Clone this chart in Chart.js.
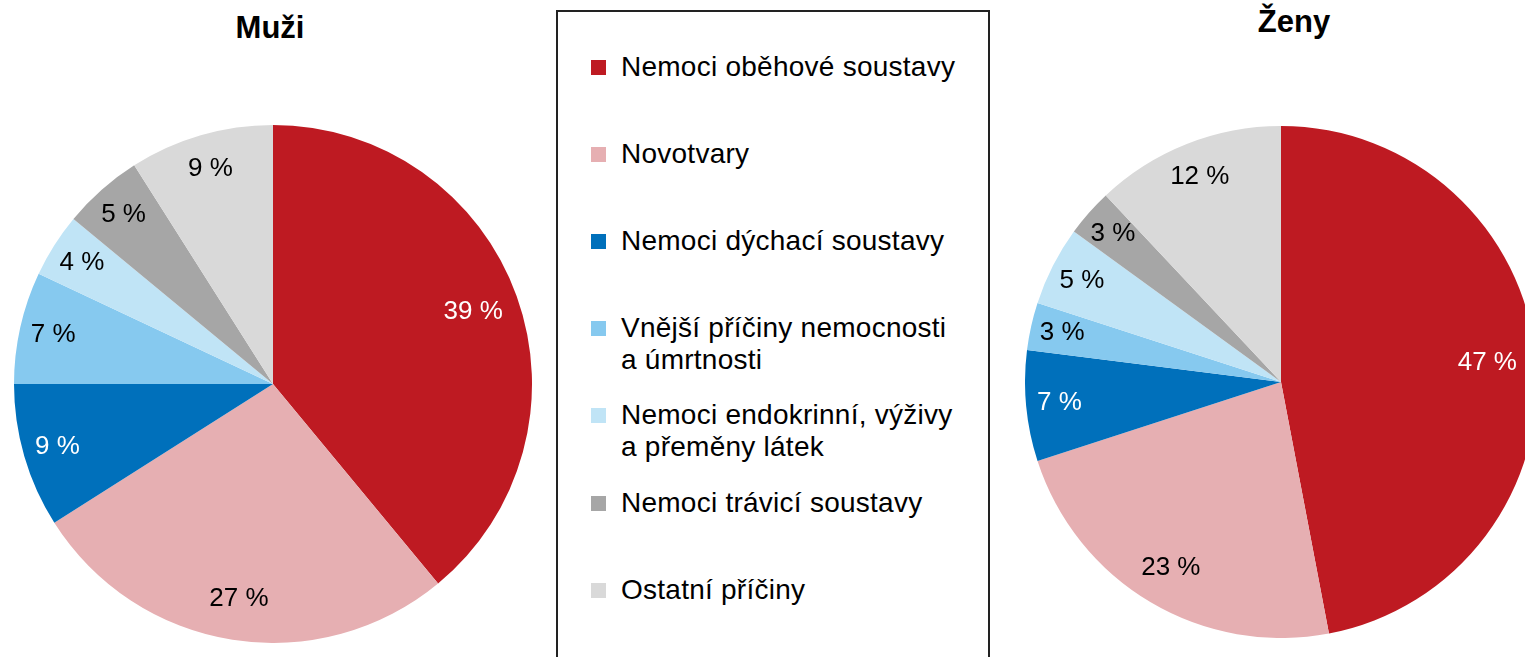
<!DOCTYPE html>
<html>
<head>
<meta charset="utf-8">
<script src="https://cdn.jsdelivr.net/npm/chart.js@4"></script>
<style>
body{margin:0;width:1525px;height:657px;overflow:hidden;background:#fff;position:relative;font-family:"Liberation Sans",Arial,sans-serif;color:#000}
.title{position:absolute;width:200px;text-align:center;font-weight:bold;font-size:31px;line-height:36px}
#muzi_title{left:170px;top:10px}
#zeny_title{left:1194px;top:4px}
canvas{position:absolute}
#muzi{left:14px;top:125px}
#zeny{left:1025px;top:126px}
#legend{position:absolute;left:556px;top:10px;width:430px;height:700px;border:2px solid #222}
#legend .item{position:absolute;left:0;width:430px}
#legend .box{position:absolute;left:33px;top:9px;width:15px;height:15px}
#legend .text{position:absolute;left:63px;top:0;font-size:28px;line-height:32px;letter-spacing:0.25px;white-space:nowrap}
</style>
</head>
<body>
<div class="title" id="muzi_title">Muži</div>
<div class="title" id="zeny_title">Ženy</div>
<canvas id="muzi" width="518" height="518"></canvas>
<div id="legend"></div>
<canvas id="zeny" width="512" height="512"></canvas>
<script>
// příčiny úmrtí
var causes = [
    "Nemoci oběhové soustavy",
    "Novotvary",
    "Nemoci dýchací soustavy",
    ["Vnější příčiny nemocnosti", "a úmrtnosti"],
    ["Nemoci endokrinní, výživy", "a přeměny látek"],
    "Nemoci trávicí soustavy",
    "Ostatní příčiny"
];
var muzi = [39, 27, 9, 7, 4, 5, 9];
var zeny = [47, 23, 7, 3, 5, 3, 12];

var colors = ["#BE1A22", "#E6AFB2", "#0070BB", "#86C9EF", "#C0E4F6", "#A6A6A6", "#D9D9D9"];
var label_colors = ["#fff", "#000", "#fff", "#000", "#000", "#000", "#000"];

var charts = {};

// popisky uvnitř výsečí, velké výseče mají popisek blíž ke středu
var slice_labels = {
    id: "slice_labels",
    afterDatasetsDraw: function(chart){
        let ctx = chart.ctx;
        let values = chart.data.datasets[0].data;
        chart.getDatasetMeta(0).data.forEach(function(arc, i){
            let p = arc.getProps(["x", "y", "startAngle", "endAngle", "outerRadius"], true);
            let mid = (p.startAngle + p.endAngle) / 2;
            let frac = (p.endAngle - p.startAngle) / (2 * Math.PI);
            let r = p.outerRadius * (0.88 - 0.15 * frac);
            ctx.save();
            ctx.font = '26px "Liberation Sans", Arial, sans-serif';
            ctx.fillStyle = label_colors[i];
            ctx.textAlign = "center";
            ctx.textBaseline = "middle";
            ctx.fillText(values[i] + " %", p.x + Math.cos(mid) * r, p.y + Math.sin(mid) * r);
            ctx.restore();
        });
    }
};

function config_pie(values){
    return {
        type: "pie",
        data: {
            labels: causes,
            datasets: [{data: values, backgroundColor: colors, borderWidth: 0}]
        },
        options: {
            responsive: false,
            animation: false,
            layout: {padding: 0},
            plugins: {legend: {display: false}, tooltip: {enabled: false}}
        },
        plugins: [slice_labels]
    };
}

function build_legend(){
    let legend = document.getElementById("legend");
    causes.forEach(function(label, i){
        let item = document.createElement("div");
        item.setAttribute("class", "item");
        item.style.top = (38.5 + 87.2 * i) + "px";
        let box = document.createElement("div");
        box.setAttribute("class", "box");
        box.style.background = colors[i];
        item.appendChild(box);
        let text = document.createElement("div");
        text.setAttribute("class", "text");
        let lines = Array.isArray(label) ? label : [label];
        lines.forEach(function(line, j){
            if (j > 0) text.appendChild(document.createElement("br"));
            text.appendChild(document.createTextNode(line));
        });
        item.appendChild(text);
        legend.appendChild(item);
    });
}

charts["muzi"] = new Chart(document.getElementById("muzi"), config_pie(muzi));
charts["zeny"] = new Chart(document.getElementById("zeny"), config_pie(zeny));
build_legend();
</script>
</body>
</html>
